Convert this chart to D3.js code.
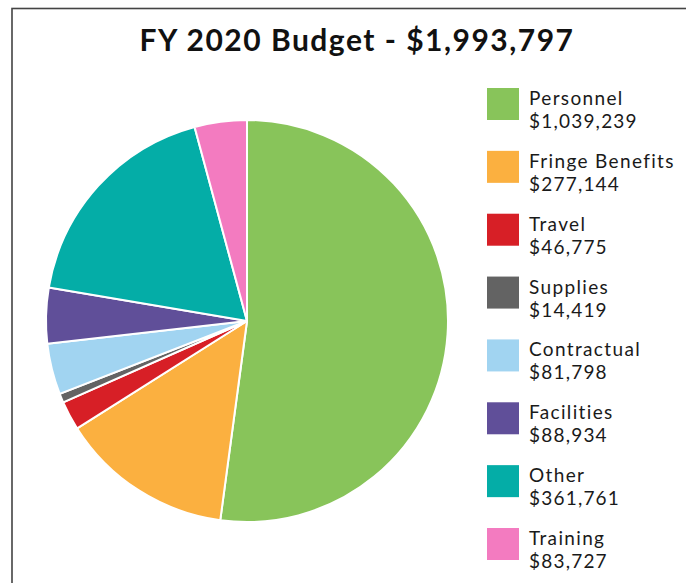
<!DOCTYPE html>
<html><head><meta charset="utf-8">
<script src="https://cdn.jsdelivr.net/npm/d3@7"></script>
<style>body{margin:0;background:#fff;}svg{display:block;}</style>
</head><body>
<svg id="chart" width="686" height="583"></svg>
<script>
const title = "FY 2020 Budget - $1,993,797";
const categories = ["Personnel","Fringe Benefits","Travel","Supplies","Contractual","Facilities","Other","Training"];
const values = [1039239,277144,46775,14419,81798,88934,361761,83727];
const colors = ["#88c45a","#fbb040","#d71f26","#636363","#a1d4f1","#604f99","#04ada7","#f37bc0"];

const svg = d3.select("#chart");
const font = "Lato, sans-serif";

svg.append("rect").attr("x",12).attr("y",8.5).attr("width",700).attr("height",600)
  .attr("fill","none").attr("stroke","#444").attr("stroke-width",1.6);

svg.append("text").attr("x",357).attr("y",51).attr("text-anchor","middle")
  .attr("font-family",font).attr("font-size",30).attr("font-weight",700).attr("fill","#111")
  .attr("letter-spacing",1.5)
  .text(title);

const data = categories.map((c,i)=>({c, v:values[i], col:colors[i]}));
const pie = d3.pie().value(d=>d.v).sort(null);
const arc = d3.arc().innerRadius(0).outerRadius(201);
const g = svg.append("g").attr("transform","translate(247,321)");
g.selectAll("path").data(pie(data)).join("path")
  .attr("d",arc).attr("fill",d=>d.data.col).attr("stroke","#fff").attr("stroke-width",2).attr("stroke-linejoin","round");

const fmt = d3.format("$,");
const y = d3.scaleLinear().domain([0,7]).range([88,528]);
const lg = svg.append("g");
const items = lg.selectAll("g").data(data).join("g").attr("transform",(d,i)=>`translate(487,${y(i)})`);
items.append("rect").attr("width",32).attr("height",32).attr("fill",d=>d.col);
items.append("text").attr("x",42).attr("y",17).attr("font-family",font).attr("font-size",19).attr("letter-spacing",1.35).attr("fill","#1a1a1a").text(d=>d.c);
items.append("text").attr("x",42).attr("y",40).attr("font-family",font).attr("font-size",19).attr("letter-spacing",1.2).attr("fill","#1a1a1a").text(d=>fmt(d.v));
</script>
</body></html>
